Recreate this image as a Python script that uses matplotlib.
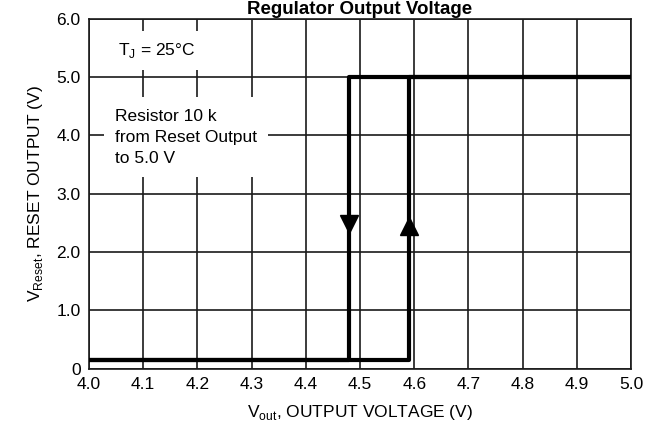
import matplotlib
matplotlib.use("Agg")
import matplotlib.pyplot as plt

plt.rcParams['font.family'] = ['Liberation Sans', 'DejaVu Sans']

# hysteresis trace of the reset output
rise_x = [4.0, 4.59, 4.59, 5.0]
rise_y = [0.15, 0.15, 5.0, 5.0]
fall_x = [5.0, 4.48, 4.48, 4.0]
fall_y = [5.0, 5.0, 0.15, 0.15]
# direction arrows (x, y)
arrow_down = (4.48, 2.48)
arrow_up = (4.59, 2.44)

xticks = [4.0, 4.1, 4.2, 4.3, 4.4, 4.5, 4.6, 4.7, 4.8, 4.9, 5.0]
yticks = [0, 1, 2, 3, 4, 5, 6]
ytick_labels = ["0", "1.0", "2.0", "3.0", "4.0", "5.0", "6.0"]

fig = plt.figure(figsize=(6.46, 4.33), dpi=100)
ax = fig.add_axes([0.1378, 0.1485, 0.839, 0.8085])

ax.plot(rise_x, rise_y, color='black', lw=3, solid_capstyle='butt', zorder=3)
ax.plot(fall_x, fall_y, color='black', lw=3, solid_capstyle='butt', zorder=3)
ax.plot(*arrow_down, marker='v', ms=13, color='black', zorder=4)
ax.plot(*arrow_up, marker='^', ms=13, color='black', zorder=4)

ax.set_xlim(4.0, 5.0)
ax.set_ylim(0, 6)
ax.set_xticks(xticks)
ax.set_xticklabels([f"{v:.1f}" for v in xticks])
ax.set_yticks(yticks)
ax.set_yticklabels(ytick_labels)
ax.tick_params(length=0, labelsize=12.5, pad=6)
ax.grid(True, color='#1a1a1a', lw=1.2)
for s in ax.spines.values():
    s.set_color('#1a1a1a')
    s.set_linewidth(1.2)

ax.text(4.053, 5.45, r"T$_\mathregular{J}$ = 25°C", fontsize=12.5, va='center',
        bbox=dict(facecolor='white', edgecolor='none', pad=7), zorder=5)
ax.text(4.048, 3.97, "Resistor 10 k\nfrom Reset Output\nto 5.0 V", fontsize=12.5,
        va='center', linespacing=1.5,
        bbox=dict(facecolor='white', edgecolor='none', pad=8), zorder=5)

ax.set_xlabel(r"V$_\mathregular{out}$, OUTPUT VOLTAGE (V)", fontsize=12.5, labelpad=8)
ax.set_ylabel(r"V$_\mathregular{Reset}$, RESET OUTPUT (V)", fontsize=12.5, labelpad=8)

fig.text(0.557, 1 - 14 / 433, "Regulator Output Voltage", fontsize=13.5,
         fontweight='bold', ha='center', va='baseline')

fig.savefig("out.png", dpi=100)
